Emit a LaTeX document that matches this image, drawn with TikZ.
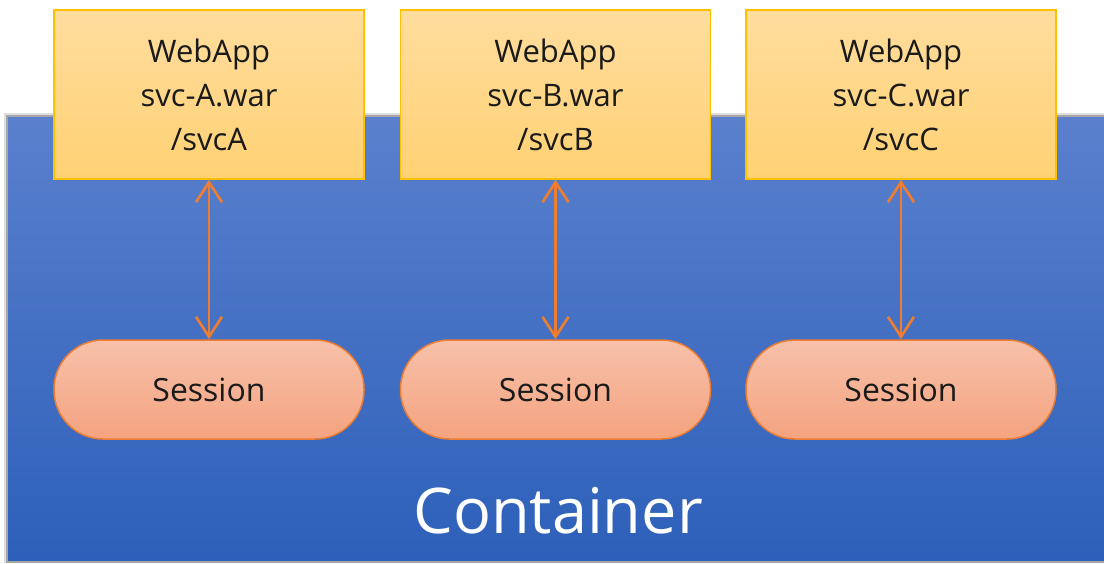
\documentclass[tikz,border=0pt]{standalone}
\usepackage{fontspec}
\setmainfont{Open Sans}
\usetikzlibrary{arrows.meta,shadows}
\definecolor{contTop}{HTML}{5A80CD}
\definecolor{contBot}{HTML}{2D60BA}
\definecolor{boxTop}{HTML}{FFDD9E}
\definecolor{boxBot}{HTML}{FFD173}
\definecolor{boxLine}{HTML}{FFC000}
\definecolor{sesTop}{HTML}{F7C1AA}
\definecolor{sesBot}{HTML}{F4A37F}
\definecolor{sesLine}{HTML}{ED7D31}
\definecolor{txt}{HTML}{1A1A1A}
\tikzset{
  appbox/.style={draw=boxLine, line width=1.5pt, top color=boxTop, bottom color=boxBot,
    minimum width=310pt, minimum height=169pt, inner sep=0pt, align=center,
    text=txt, font=\fontsize{31}{44}\selectfont},
  sesbox/.style={draw=sesLine, line width=1.5pt, top color=sesTop, bottom color=sesBot,
    minimum width=310pt, minimum height=99pt, rounded corners=49pt, inner sep=0pt,
    text=txt, font=\fontsize{32}{38}\selectfont},
  link/.style={draw=sesLine, line width=2.7pt, {Straight Barb[length=20pt,width=26pt,line width=2.7pt]}-{Straight Barb[length=20pt,width=26pt,line width=2.7pt]}}
}
\begin{document}
\begin{tikzpicture}[x=1pt,y=-1pt]
\useasboundingbox (0,0) rectangle (1104,563);
\fill[white] (0,0) rectangle (1104,563);
% container shadow and body
\fill[gray!25] (4,113) rectangle (1104,563);
\fill[gray!70] (6,115) rectangle (1104,563);
\shade[top color=contTop, bottom color=contBot] (8,117) rectangle (1104,560);
\node[text=white, font=\fontsize{63}{70}\selectfont, anchor=base] (cont) at (558,533) {Container};
% web apps
\node[appbox] (appA) at (209,94.5) {WebApp\\svc-A.war\\/svcA};
\node[appbox] (appB) at (555.5,94.5) {WebApp\\svc-B.war\\/svcB};
\node[appbox] (appC) at (901,94.5) {WebApp\\svc-C.war\\/svcC};
% sessions
\node[sesbox] (sesA) at (209,389.5) {Session};
\node[sesbox] (sesB) at (555.5,389.5) {Session};
\node[sesbox] (sesC) at (901,389.5) {Session};
% links
\draw[link] (appA.south) -- (sesA.north);
\draw[link] (appB.south) -- (sesB.north);
\draw[link] (appC.south) -- (sesC.north);
\end{tikzpicture}
\end{document}
